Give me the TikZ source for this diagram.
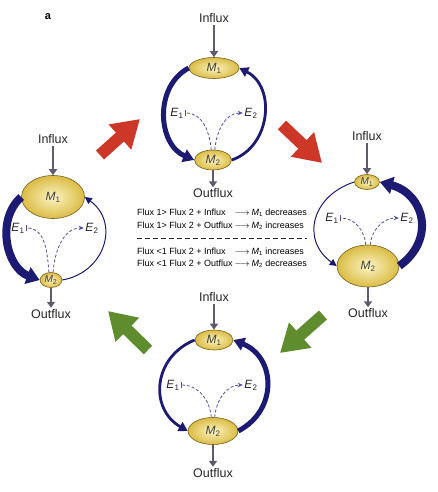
\documentclass[tikz,border=0pt]{standalone}
\usepackage{fontspec}
\setmainfont{Liberation Sans}
\usetikzlibrary{positioning,arrows.meta,calc,shapes.geometric}

\definecolor{loopblue}{RGB}{28,26,115}
\definecolor{dashblue}{RGB}{80,80,165}
\definecolor{feedgrey}{RGB}{95,90,110}
\definecolor{poolfill}{RGB}{218,188,68}
\definecolor{poolcore}{RGB}{252,244,195}
\definecolor{pooledge}{RGB}{120,95,30}
\definecolor{upred}{RGB}{205,55,40}
\definecolor{downgreen}{RGB}{95,140,45}

\newcommand{\Mpool}[1]{\textit{M}\textsubscript{#1}}
\newcommand{\Eenz}[1]{\textit{E}\textsubscript{#1}}

\begin{document}
\begin{tikzpicture}[x=1pt, y=1pt,
    pool/.style={ellipse, draw=pooledge, line width=0.6pt, inner color=poolcore, outer color=poolfill,
        inner sep=0pt, font=\fontsize{12}{12}\selectfont, text=black!75},
    small pool/.style={pool, font=\fontsize{10}{10}\selectfont},
    flux/.style={font=\fontsize{12.5}{13}\selectfont, inner sep=1pt, text=black!85},
    enzyme/.style={font=\fontsize{12}{12}\selectfont, inner sep=1.5pt, text=black!85},
    feed/.style={draw=feedgrey, line width=2.4pt, -{Triangle[length=6pt,width=8pt]}},
    thin cycle/.style={draw=loopblue, line width=1pt, -{Triangle[length=7pt,width=7pt]}},
    mid cycle/.style={draw=loopblue, line width=2.8pt, -{Triangle[length=9pt,width=10pt]}},
    thick cycle/.style={draw=loopblue, line width=5pt, -{Triangle[length=11pt,width=13pt]}},
    heavy cycle/.style={draw=loopblue, line width=8pt, -{Triangle[length=13pt,width=17pt]}},
    act/.style={draw=dashblue, dash pattern=on 3pt off 2pt, line width=0.8pt, -{Stealth[length=5pt,width=4.5pt]}},
    inh/.style={draw=dashblue, dash pattern=on 3pt off 2pt, line width=0.8pt, -{Bar[width=6pt]}},
    swing/.style={line width=12pt, -{Triangle[length=27pt,width=32pt]}},
    divider/.style={draw=black!85, line width=1.2pt, dash pattern=on 5pt off 3pt}]

    \useasboundingbox (0,0) rectangle (438,-492);

    % Panel label
    \node[font=\bfseries\fontsize{11}{11}\selectfont] (panel) at (48,-17) {a};

    % Top: balanced fluxes
    \node[pool, minimum width=50pt, minimum height=21pt] (tm1) at (214,-68) {\Mpool{1}};
    \node[pool, minimum width=37pt, minimum height=20pt] (tm2) at (213,-160) {\Mpool{2}};
    \node[flux, above=33pt of tm1] (tin) {Influx};
    \node[flux, below=17pt of tm2] (tout) {Outflux};
    \node[enzyme] (te1) at (177,-113) {\Eenz{1}};
    \node[enzyme] (te2) at (251,-113) {\Eenz{2}};

    % Left: M1 large
    \node[pool, minimum width=63pt, minimum height=43pt] (lm1) at (53,-197) {\Mpool{1}};
    \node[small pool, minimum width=22pt, minimum height=15pt] (lm2) at (51,-280) {\Mpool{2}};
    \node[flux, above=30pt of lm1] (lin) {Influx};
    \node[flux, below=20pt of lm2] (lout) {Outflux};
    \node[enzyme] (le1) at (18,-228) {\Eenz{1}};
    \node[enzyme] (le2) at (92,-228) {\Eenz{2}};

    % Right: M2 large
    \node[small pool, minimum width=25pt, minimum height=15pt] (rm1) at (367,-182) {\Mpool{1}};
    \node[pool, minimum width=62pt, minimum height=42pt] (rm2) at (368,-266) {\Mpool{2}};
    \node[flux, above=32pt of rm1] (rin) {Influx};
    \node[flux, below=20pt of rm2] (rout) {Outflux};
    \node[enzyme] (re1) at (332,-218) {\Eenz{1}};
    \node[enzyme] (re2) at (407,-218) {\Eenz{2}};

    % Bottom: balanced again
    \node[pool, minimum width=38pt, minimum height=20pt] (bm1) at (214,-340) {\Mpool{1}};
    \node[pool, minimum width=50pt, minimum height=27pt] (bm2) at (213,-431) {\Mpool{2}};
    \node[flux, above=27pt of bm1] (bin) {Influx};
    \node[flux, below=22pt of bm2] (bout) {Outflux};
    \node[enzyme] (be1) at (173,-385) {\Eenz{1}};
    \node[enzyme] (be2) at (251,-385) {\Eenz{2}};

    % Rules in the middle
    \node[anchor=west, inner sep=0pt, font=\fontsize{9}{12.5}\selectfont] (gt) at (137,-219.5) {%
        \begin{tabular}{@{}l@{\hspace{2pt}}c@{\hspace{2pt}}l@{}}
        Flux 1> Flux 2 + Influx & $\longrightarrow$ & \Mpool{1} decreases\\
        Flux 1> Flux 2 + Outflux & $\longrightarrow$ & \Mpool{2} increases
        \end{tabular}};
    \node[anchor=west, inner sep=0pt, font=\fontsize{9}{12.5}\selectfont] (lt) at (137,-258) {%
        \begin{tabular}{@{}l@{\hspace{2pt}}c@{\hspace{2pt}}l@{}}
        Flux <1 Flux 2 + Influx & $\longrightarrow$ & \Mpool{1} increases\\
        Flux <1 Flux 2 + Outflux & $\longrightarrow$ & \Mpool{2} decreases
        \end{tabular}};

    % Shift arrows
    \coordinate (ra1) at (100,-155);  \coordinate (rb1) at (140,-119);
    \coordinate (ra2) at (282,-125);  \coordinate (rb2) at (322,-163);
    \coordinate (ga1) at (323,-315);  \coordinate (gb1) at (280,-353);
    \coordinate (ga2) at (148,-350);  \coordinate (gb2) at (108,-311);

    % Edges
    \draw[feed, shorten <=1pt] (tin) -- (tm1);
    \draw[feed] (tm2) -- (tout);
    \draw[thick cycle] (tm1.west) to[out=208, in=157, looseness=1.1] (tm2.west);
    \draw[mid cycle] (tm2.east) to[out=19, in=-27, looseness=1.15] (tm1.east);
    \draw[inh] (tm2.100) to[out=95, in=0] (te1);
    \draw[act] (tm2.80) to[out=85, in=180] (te2);

    \draw[feed, shorten <=1pt] (lin) -- (lm1);
    \draw[feed] (lm2) -- (lout);
    \draw[heavy cycle] (lm1.west) to[out=222, in=160, looseness=1.05] (lm2.west);
    \draw[thin cycle] (lm2.east) to[out=10, in=-36, looseness=1.3] (lm1.east);
    \draw[inh] (lm2.105) to[out=95, in=0] (le1);
    \draw[act] (lm2.75) to[out=85, in=180] (le2);

    \draw[feed, shorten <=1pt] (rin) -- (rm1);
    \draw[feed] (rm2) -- (rout);
    \draw[thin cycle] (rm1.west) to[out=198, in=144, looseness=1.33] (rm2.west);
    \draw[heavy cycle] (rm2.east) to[out=36, in=-15, looseness=1.36] (rm1.east);
    \draw[inh] (rm2.96) to[out=95, in=0] (re1);
    \draw[act] (rm2.84) to[out=85, in=180] (re2);

    \draw[feed, shorten <=1pt] (bin) -- (bm1);
    \draw[feed] (bm2) -- (bout);
    \draw[mid cycle] (bm1.west) to[out=202, in=150, looseness=1.26] (bm2.west);
    \draw[thick cycle] (bm2.east) to[out=28, in=-22, looseness=1.28] (bm1.east);
    \draw[inh] (bm2.97) to[out=95, in=0] (be1);
    \draw[act] (bm2.83) to[out=85, in=180] (be2);

    \draw[divider] ($(gt.south west)!.5!(lt.north west)$) -- ($(gt.south east)!.5!(lt.north east)$);

    \draw[swing, upred] (ra1) -- (rb1);
    \draw[swing, upred] (ra2) -- (rb2);
    \draw[swing, downgreen] (ga1) -- (gb1);
    \draw[swing, downgreen] (ga2) -- (gb2);
\end{tikzpicture}
\end{document}
